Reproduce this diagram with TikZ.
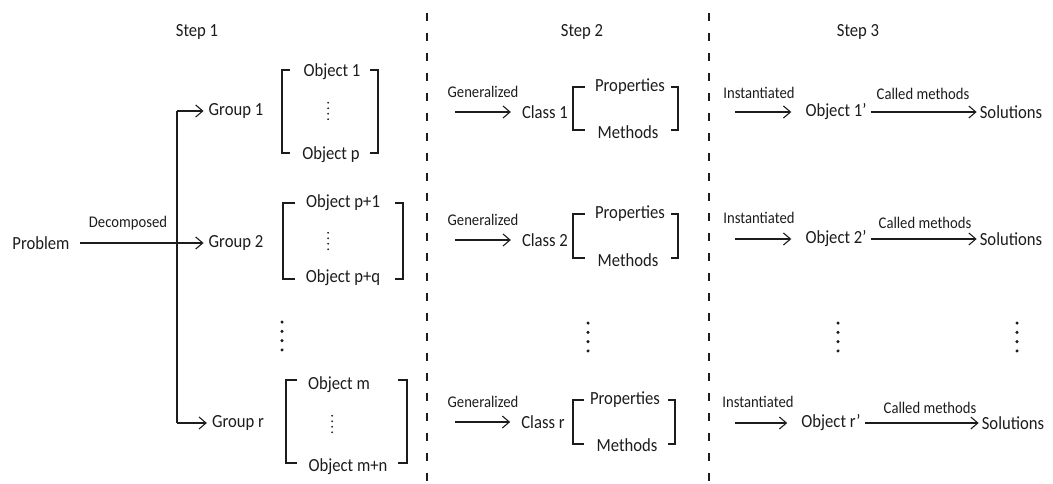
\documentclass[tikz,border=0pt]{standalone}
\usepackage{fontspec}
\setmainfont{Carlito}[FakeStretch=0.9]
\usetikzlibrary{arrows.meta}
\definecolor{ink}{HTML}{1C1C1C}
\tikzset{
  main/.style={inner sep=0pt, text=ink, font=\fontsize{18.5}{21}\selectfont},
  lab/.style={inner sep=0pt, text=ink, font=\fontsize{16.3}{19}\selectfont},
  arr/.style={draw=ink, line width=1.1pt, -{Straight Barb[length=7pt,width=12pt]}},
  brk/.style={draw=ink, line width=1.1pt},
  divider/.style={draw=ink, line width=2pt, dash pattern=on 8pt off 12pt},
  smalldot/.style={fill=ink, draw=none, minimum size=2pt, inner sep=0pt, circle},
  bigdot/.style={fill=ink, draw=none, minimum size=3.4pt, inner sep=0pt, circle},
}
% vertical ellipsis: #1 = x, #2 = centre y, #3 = spacing, #4 = dot style
\newcommand{\vdotsat}[4]{%
  \foreach \k in {-1.5,-0.5,0.5,1.5}{\node[#4] at (#1,{#2+\k*#3}) {};}}
\begin{document}
\begin{tikzpicture}[x=1pt,y=-1pt]
\useasboundingbox (0,0) rectangle (1053,484);

% step dividers
\draw[divider] (427,13) -- (427,484);
\draw[divider] (709,13) -- (709,484);

% step titles
\node[main] (step1) at (197,32) {Step 1};
\node[main] (step2) at (582,32) {Step 2};
\node[main] (step3) at (858,32) {Step 3};

% ---------------- Step 1: decomposition ----------------
\node[main] (prob) at (41,243) {Problem};
\node[main] (g1) at (236,111) {Group 1};
\node[main] (g2) at (236,243) {Group 2};
\node[main] (gr) at (238,423) {Group r};
\coordinate (t1) at (177,111);
\coordinate (tr) at (177,423);

\draw[arr, shorten <=10pt, shorten >=5pt] (prob) -- (g2);
\node[lab] (dec) at (128,223) {Decomposed};
\draw[brk] (t1) -- (tr);
\draw[arr, shorten >=5pt] (t1) -- (g1);
\draw[arr, shorten >=5pt] (tr) -- (gr);

% object lists of each group
\node[main] (o1) at (332,72) {Object 1};
\node[main] (op) at (331,155) {Object p};
\draw[brk] (290,70) -- (282,70) -- (282,153) -- (290,153);
\draw[brk] (370,70) -- (378,70) -- (378,153) -- (370,153);
\vdotsat{328}{111}{5.5}{smalldot}

\node[main] (op1) at (343,203) {Object p+1};
\node[main] (opq) at (343,278) {Object p+q};
\draw[brk] (295,203) -- (283,203) -- (283,279) -- (295,279);
\draw[brk] (395,203) -- (403,203) -- (403,279) -- (395,279);
\vdotsat{328}{241}{5.5}{smalldot}

\node[main] (om) at (339,385) {Object m};
\node[main] (omn) at (348,467) {Object m+n};
\draw[brk] (297,380) -- (286,380) -- (286,463) -- (297,463);
\draw[brk] (398,380) -- (407,380) -- (407,463) -- (398,463);
\vdotsat{332}{424}{5.5}{smalldot}

\vdotsat{282}{336}{9.3}{bigdot}

% ---------------- Step 2: generalization ----------------
\coordinate (ga1) at (455,112);
\coordinate (ga2) at (455,240);
\coordinate (gar) at (455,422);
\node[main] (c1) at (545,112) {Class 1};
\node[main] (c2) at (545,240) {Class 2};
\node[main] (cr) at (543,422) {Class r};
\node[lab] (gen1) at (483,92) {Generalized};
\node[lab] (gen2) at (483,220) {Generalized};
\node[lab] (genr) at (483,402) {Generalized};
\draw[arr, shorten >=11pt] (ga1) -- (c1);
\draw[arr, shorten >=11pt] (ga2) -- (c2);
\draw[arr, shorten >=11pt] (gar) -- (cr);

\node[main] (p1) at (630,87) {Properties};
\node[main] (m1) at (628,132) {Methods};
\draw[brk] (585,87) -- (573,87) -- (573,130) -- (585,130);
\draw[brk] (671,87) -- (678,87) -- (678,130) -- (671,130);

\node[main] (p2) at (630,214) {Properties};
\node[main] (m2) at (628,260) {Methods};
\draw[brk] (585,214) -- (573,214) -- (573,258) -- (585,258);
\draw[brk] (671,214) -- (678,214) -- (678,258) -- (671,258);

\node[main] (pr) at (625,400) {Properties};
\node[main] (mr) at (627,445) {Methods};
\draw[brk] (584,400) -- (573,400) -- (573,444) -- (584,444);
\draw[brk] (668,400) -- (675,400) -- (675,444) -- (668,444);

\vdotsat{588}{337}{9.3}{bigdot}

% ---------------- Step 3: instantiation ----------------
\coordinate (ia1) at (735,112);
\coordinate (ia2) at (735,239);
\coordinate (iar) at (735,423);
\node[main] (ob1) at (836,112) {Object 1\textquoteright};
\node[main] (ob2) at (836,239) {Object 2\textquoteright};
\node[main] (obr) at (831,423) {Object r\textquoteright};
\node[lab] (inst1) at (759,93) {Instantiated};
\node[lab] (inst2) at (759,218) {Instantiated};
\node[lab] (instr) at (758,402) {Instantiated};
\draw[arr, shorten >=14pt] (ia1) -- (ob1);
\draw[arr, shorten >=14pt] (ia2) -- (ob2);
\draw[arr, shorten >=14pt] (iar) -- (obr);

\node[main] (s1) at (1011,112) {Solutions};
\node[main] (s2) at (1011,239) {Solutions};
\node[main] (sr) at (1013,423) {Solutions};
\draw[arr, shorten <=4pt, shorten >=3pt] (ob1) -- (s1);
\draw[arr, shorten <=4pt, shorten >=3pt] (ob2) -- (s2);
\draw[arr, shorten <=4pt, shorten >=3pt] (obr) -- (sr);
\node[lab] (cm1) at (923,94) {Called methods};
\node[lab] (cm2) at (925,223) {Called methods};
\node[lab] (cmr) at (930,408) {Called methods};

\vdotsat{838}{337}{9.3}{bigdot}
\vdotsat{1017}{337}{9.3}{bigdot}
\end{tikzpicture}
\end{document}
